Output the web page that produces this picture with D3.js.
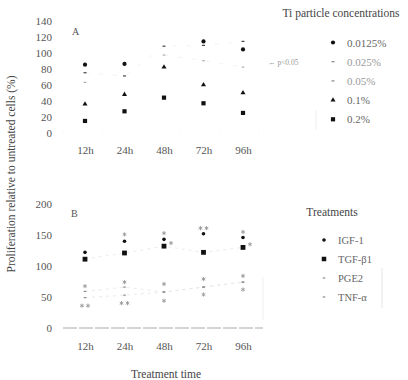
<!DOCTYPE html>
<html>
<head>
<meta charset="utf-8">
<script src="https://cdn.jsdelivr.net/npm/d3@7"></script>
<style>
  body { margin: 0; background: #fff; }
  svg { display: block; }
  svg text { font-family: "Liberation Serif", "DejaVu Serif", serif; }
</style>
</head>
<body>
<svg id="chart" width="408" height="380"></svg>
<script>
// time points (shared by both panels)
const times = ["12h", "24h", "48h", "72h", "96h"];

// panel A: Ti particle concentrations (% proliferation)
const concLabels = ["0.0125%", "0.025%", "0.05%", "0.1%", "0.2%"];
const conc0125 = [85, 86, null, 114, 104];
const conc025 = [75, 71, 108, 109, 114];
const conc05 = [63, null, 97, 90, 82];
const conc1 = [36, 48, 82, 60, 50];
const conc2 = [15, 27, 44, 37, 25];
const ticksA = [0, 20, 40, 60, 80, 100, 120, 140];

// panel B: treatments
const treatLabels = ["IGF-1", "TGF-β1", "PGE2", "TNF-α"];
const igf = [122, 140, 143, 152, 146];
const tgf = [111, 121, 132, 122, 130];
const pge2 = [59, 66, 58, 66, 74];
const tnf = [49, 53, 58, 66, 74];
const ticksB = [0, 50, 100, 150, 200];

// significance marks (label, value where it sits)
const igfSig = ["", "*", "*", "**", "*"];
const igfSigAt = [null, 151, 153, 161, 155];
const tgfSig = ["", "", "*", "", "*"];
const tgfSigAt = [null, null, 137, null, 135];
const pgeSig = ["*", "*", "*", "*", "*"];
const pgeSigAt = [67.5, 74, 71, 79, 84];
const tnfSig = ["**", "**", "*", "*", "*"];
const tnfSigAt = [36, 40, 44, 54, 62];

const serif = "'Liberation Serif', 'DejaVu Serif', serif";
const svg = d3.select("#chart").attr("font-family", serif);

const x = d3.scalePoint().domain(times).range([85, 243]);
const yA = d3.scaleLinear().domain([0, 140]).range([133, 20.5]);
const yB = d3.scaleLinear().domain([0, 200]).range([328, 204]);

const tickColor = "#555";

function leftAxis(scale, ticks) {
  const g = svg.append("g")
    .attr("transform", "translate(55,0)")
    .call(d3.axisLeft(scale).tickValues(ticks).tickSize(0).tickPadding(3))
    .attr("font-family", serif);
  g.select(".domain").remove();
  g.selectAll("text").attr("font-size", 11).attr("fill", tickColor);
}

function bottomAxis(yPos) {
  const g = svg.append("g")
    .attr("transform", `translate(0,${yPos})`)
    .call(d3.axisBottom(x).tickSize(0).tickPadding(3))
    .attr("font-family", serif);
  g.select(".domain").remove();
  g.selectAll("text").attr("font-size", 11).attr("fill", tickColor);
}

leftAxis(yA, ticksA);
leftAxis(yB, ticksB);
bottomAxis(143);
bottomAxis(339);

// panel letters
svg.append("text").attr("x", 72).attr("y", 35).attr("font-size", 10).attr("fill", "#555").text("A");
svg.append("text").attr("x", 71).attr("y", 217).attr("font-size", 10).attr("fill", "#555").text("B");

// axis titles
svg.append("text")
  .attr("transform", "translate(15,174) rotate(-90)")
  .attr("text-anchor", "middle").attr("font-size", 11.5).attr("fill", "#444")
  .text("Proliferation relative to untreated cells (%)");
svg.append("text")
  .attr("x", 166).attr("y", 378).attr("text-anchor", "middle")
  .attr("font-size", 11.5).attr("fill", "#444").text("Treatment time");

// faint baselines
svg.append("line").attr("x1", 63).attr("x2", 263).attr("y1", yB(0)).attr("y2", yB(0))
  .attr("stroke", "#aaa").attr("stroke-width", 1).attr("stroke-dasharray", "14,2");
svg.append("line").attr("x1", 63).attr("x2", 263).attr("y1", yA(0)).attr("y2", yA(0))
  .attr("stroke", "#eee").attr("stroke-width", 1).attr("stroke-dasharray", "1,38");

// marker helpers
function drawCircle(g, cx, cy, r, fill) {
  g.append("circle").attr("cx", cx).attr("cy", cy).attr("r", r).attr("fill", fill);
}
function drawSquare(g, cx, cy, s, fill) {
  g.append("rect").attr("x", cx - s / 2).attr("y", cy - s / 2).attr("width", s).attr("height", s).attr("fill", fill);
}
function drawTriangle(g, cx, cy, area, fill) {
  g.append("path").attr("transform", `translate(${cx},${cy})`)
    .attr("d", d3.symbol(d3.symbolTriangle, area).call()).attr("fill", fill);
}
function drawDash(g, cx, cy, w, stroke) {
  g.append("line").attr("x1", cx - w / 2).attr("x2", cx + w / 2).attr("y1", cy).attr("y2", cy)
    .attr("stroke", stroke).attr("stroke-width", 1.2);
}
function drawStar(g, cx, cy, label) {
  const n = label.length;
  for (let i = 0; i < n; i++) {
    const off = (i - (n - 1) / 2) * 6;
    g.append("path").attr("transform", `translate(${cx + off},${cy})`)
      .attr("d", d3.symbol(d3.symbolAsterisk, 12).call())
      .attr("fill", "none").attr("stroke", "#999").attr("stroke-width", 0.9);
  }
}

// panel A faint connectors
const fade = d3.line().defined(d => d[1] != null).x(d => x(d[0])).y(d => yA(d[1]));
[conc025, conc05].forEach(s => {
  svg.append("path").datum(times.map((t, i) => [t, s[i]]))
    .attr("d", fade).attr("fill", "none").attr("stroke", "#f0f0f0")
    .attr("stroke-width", 0.8).attr("stroke-dasharray", "4,10");
});

// panel A markers
const gA = svg.append("g");
times.forEach((t, i) => {
  const cx = x(t);
  if (conc0125[i] != null) drawCircle(gA, cx, yA(conc0125[i]), 2.1, "#111");
  if (conc025[i] != null) drawDash(gA, cx, yA(conc025[i]), 3, "#444");
  if (conc05[i] != null) drawDash(gA, cx, yA(conc05[i]), 2.5, "#aaa");
  if (conc1[i] != null) drawTriangle(gA, cx, yA(conc1[i]), 11, "#111");
  if (conc2[i] != null) drawSquare(gA, cx, yA(conc2[i]), 4.2, "#111");
});

// p<0.05 note
svg.append("text").attr("x", 268).attr("y", 65).attr("font-size", 7.5).attr("fill", "#999")
  .text("← p<0.05");

// panel A legend
svg.append("text").attr("x", 341).attr("y", 17).attr("text-anchor", "middle")
  .attr("font-size", 11.5).attr("fill", "#444").text("Ti particle concentrations");
const legA = svg.append("g");
concLabels.forEach((lab, i) => {
  const cy = 42.5 + i * 19.2;
  if (i === 0) drawCircle(legA, 333, cy, 2.1, "#111");
  if (i === 1) drawDash(legA, 333, cy, 3, "#888");
  if (i === 2) drawDash(legA, 333, cy, 3, "#888");
  if (i === 3) drawTriangle(legA, 333, cy, 11, "#111");
  if (i === 4) drawSquare(legA, 333, cy, 4.2, "#111");
  legA.append("text").attr("x", 347).attr("y", cy + 4).attr("font-size", 11)
    .attr("fill", i === 1 || i === 2 ? "#999" : "#666").text(lab);
});
svg.append("line").attr("x1", 316).attr("x2", 316).attr("y1", 110).attr("y2", 130)
  .attr("stroke", "#eee");

// panel B faint trend lines
const lineB = d3.line().x(d => x(d[0])).y(d => yB(d[1]));
[tgf, pge2, tnf].forEach(s => {
  svg.append("path").datum(times.map((t, i) => [t, s[i]]))
    .attr("d", lineB).attr("fill", "none").attr("stroke", "#e4e4e4")
    .attr("stroke-width", 0.8).attr("stroke-dasharray", "3,4");
});

// panel B markers
const gB = svg.append("g");
times.forEach((t, i) => {
  const cx = x(t);
  drawCircle(gB, cx, yB(igf[i]), 1.8, "#111");
  drawSquare(gB, cx, yB(tgf[i]), 4.8, "#111");
  drawDash(gB, cx, yB(pge2[i]), 2.5, "#888");
  drawDash(gB, cx, yB(tnf[i]), 2.5, "#888");
  if (igfSig[i]) drawStar(gB, cx, yB(igfSigAt[i]), igfSig[i]);
  if (tgfSig[i]) drawStar(gB, cx + 7, yB(tgfSigAt[i]), tgfSig[i]);
  if (pgeSig[i]) drawStar(gB, cx, yB(pgeSigAt[i]), pgeSig[i]);
  if (tnfSig[i]) drawStar(gB, cx, yB(tnfSigAt[i]), tnfSig[i]);
});

// panel B legend
svg.append("text").attr("x", 332).attr("y", 216).attr("text-anchor", "middle")
  .attr("font-size", 11.5).attr("fill", "#444").text("Treatments");
const legB = svg.append("g");
treatLabels.forEach((lab, i) => {
  const cy = 240 + i * 19;
  if (i === 0) drawCircle(legB, 324, cy, 1.8, "#111");
  if (i === 1) drawSquare(legB, 324, cy, 4.5, "#111");
  if (i >= 2) drawDash(legB, 324, cy, 2.5, "#888");
  legB.append("text").attr("x", 338).attr("y", cy + 4).attr("font-size", 10.5)
    .attr("fill", "#666").text(lab);
});
svg.append("line").attr("x1", 382).attr("x2", 382).attr("y1", 268).attr("y2", 308)
  .attr("stroke", "#e4e4e4");
svg.append("line").attr("x1", 263).attr("x2", 263).attr("y1", 277).attr("y2", 320)
  .attr("stroke", "#f0f0f0");
</script>
</body>
</html>
